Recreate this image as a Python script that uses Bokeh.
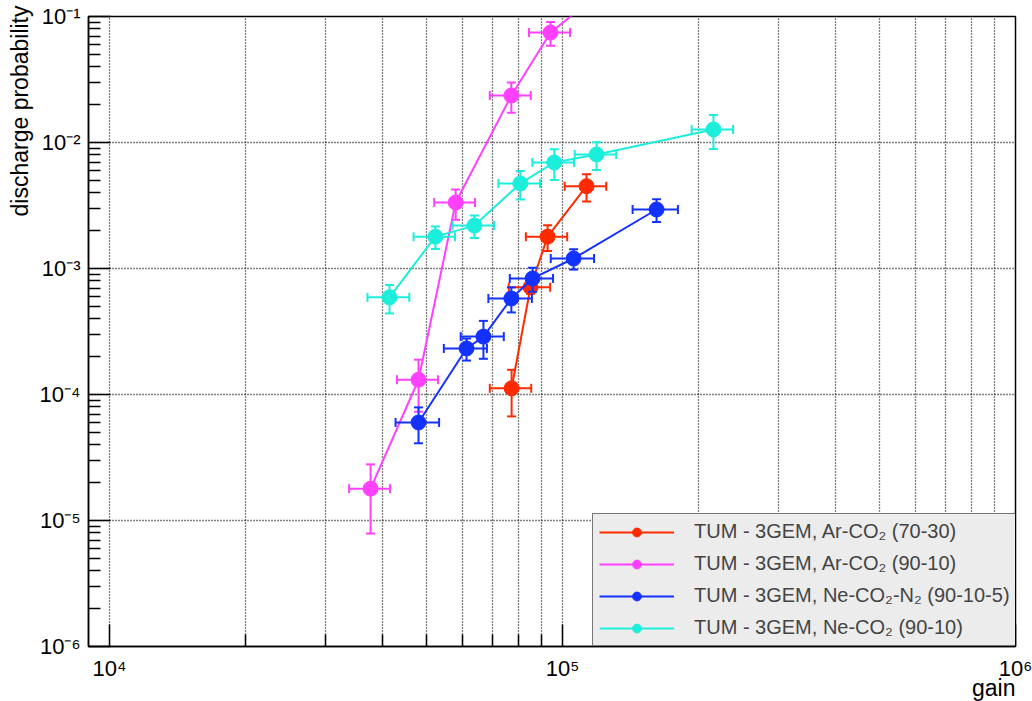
import math
from bokeh.plotting import figure
from bokeh.models import (Range1d, FixedTicker, Legend, LegendItem,
                          CustomJSTickFormatter, Title)
from bokeh.embed import file_html
from bokeh.resources import INLINE

FONT = "Liberation Sans"

# ---------------- data ----------------
x_major_ticks = [1e4, 1e5, 1e6]
y_major_ticks = [1e-6, 1e-5, 1e-4, 1e-3, 1e-2, 1e-1]

labels = [
    "TUM - 3GEM, Ar-CO\u2082 (70-30)",
    "TUM - 3GEM, Ar-CO\u2082 (90-10)",
    "TUM - 3GEM, Ne-CO\u2082-N\u2082 (90-10-5)",
    "TUM - 3GEM, Ne-CO\u2082 (90-10)",
]
colors = ["#ff2a00", "#ff40ff", "#1432ff", "#1ceedc"]

arco2_7030_gain = [77200, 85000, 92700, 113000]
arco2_7030_gain_err = [8100, 8900, 9700, 11900]
arco2_7030_prob = [1.12e-4, 7.1e-4, 1.79e-3, 4.5e-3]
arco2_7030_prob_err = [4.5e-5, 8.0e-5, 4.1e-4, 1.1e-3]

arco2_9010_gain = [37700, 48100, 58100, 77100, 94100, 120000]
arco2_9010_gain_err = [3900, 5000, 6000, 8000, 9800, 12500]
arco2_9010_prob = [1.79e-5, 1.31e-4, 3.34e-3, 2.36e-2, 7.46e-2, 0.15]
arco2_9010_prob_err = [1.0e-5, 5.8e-5, 9.0e-4, 6.4e-3, 1.6e-2, 3.0e-2]

neco2n2_gain = [48100, 61400, 66900, 77100, 85900, 105800, 161300]
neco2n2_gain_err = [5300, 6700, 7300, 8500, 9400, 11600, 18500]
neco2n2_prob = [6.0e-5, 2.32e-4, 2.88e-4, 5.78e-4, 8.34e-4, 1.20e-3, 2.94e-3]
neco2n2_prob_err = [1.9e-5, 4.6e-5, 9.6e-5, 1.3e-4, 1.8e-4, 2.2e-4, 6.0e-4]

neco2_gain = [41500, 52400, 63900, 80700, 95900, 118900, 215400]
neco2_gain_err = [4400, 5500, 6700, 8500, 10100, 12500, 22600]
neco2_prob = [5.9e-4, 1.79e-3, 2.19e-3, 4.73e-3, 6.94e-3, 8.04e-3, 1.27e-2]
neco2_prob_err = [1.5e-4, 3.6e-4, 4.4e-4, 1.2e-3, 1.9e-3, 2.0e-3, 3.8e-3]

series = [
    (arco2_7030_gain, arco2_7030_gain_err, arco2_7030_prob, arco2_7030_prob_err),
    (arco2_9010_gain, arco2_9010_gain_err, arco2_9010_prob, arco2_9010_prob_err),
    (neco2n2_gain, neco2n2_gain_err, neco2n2_prob, neco2n2_prob_err),
    (neco2_gain, neco2_gain_err, neco2_prob, neco2_prob_err),
]

# ---------------- figure ----------------
p = figure(width=1032, height=701, x_axis_type="log", y_axis_type="log",
           x_range=Range1d(10 ** 3.9536, 1e6), y_range=Range1d(1e-6, 1e-1),
           output_backend="svg", toolbar_location=None,
           min_border_left=88, min_border_right=17, min_border_top=16,
           min_border_bottom=55, background_fill_color="white",
           border_fill_color="white")
p.outline_line_color = "black"
p.outline_line_width = 1.5

x_minor = [m * 10 ** k for k in (4, 5) for m in range(2, 10)]
y_minor = [m * 10.0 ** k for k in range(-6, -1) for m in range(2, 10)]
xt = FixedTicker(ticks=x_major_ticks, minor_ticks=x_minor)
yt = FixedTicker(ticks=y_major_ticks, minor_ticks=y_minor)
p.xaxis.ticker = xt
p.yaxis.ticker = yt
p.xgrid.ticker = xt
p.ygrid.ticker = yt

sup_code = """
const sup = {"-": "\u207b", "0": "\u2070", "1": "\u00b9", "2": "\u00b2", "3": "\u00b3",
             "4": "\u2074", "5": "\u2075", "6": "\u2076", "7": "\u2077", "8": "\u2078", "9": "\u2079"};
const e = Math.round(Math.log10(tick));
return "10" + String(e).split("").map(c => sup[c]).join("");
"""
p.xaxis.formatter = CustomJSTickFormatter(code=sup_code)
p.yaxis.formatter = CustomJSTickFormatter(code=sup_code)

for ax in (p.xaxis, p.yaxis):
    ax.major_tick_in = 22
    ax.major_tick_out = 0
    ax.minor_tick_in = 12
    ax.minor_tick_out = 0
    ax.axis_line_width = 1.5
    ax.major_tick_line_width = 1.5
    ax.minor_tick_line_width = 1.5
    ax.major_label_text_font = FONT
    ax.major_label_text_font_size = "22px"
    ax.major_label_text_color = "black"
p.xaxis.major_label_standoff = 9
p.yaxis.major_label_standoff = 8


def make_title(text, standoff, offset):
    t = Title(text=text, align="right", text_font=FONT, text_font_size="23px",
              text_font_style="normal", text_color="black")
    try:
        t.standoff = standoff
    except Exception:
        t.standoff = 0
    t.offset = offset
    return t


p.add_layout(make_title("gain", -22, 0), "below")
p.add_layout(make_title("discharge probability", 7, -11), "left")

for g in (p.xgrid, p.ygrid):
    g.grid_line_color = "black"
    g.grid_line_dash = "1 2"
    g.grid_line_width = 1.3
p.xgrid.minor_grid_line_color = "black"
p.xgrid.minor_grid_line_dash = "1 2"
p.xgrid.minor_grid_line_width = 1.3
p.ygrid.minor_grid_line_color = None

# ---------------- data glyphs ----------------
items = []
for (gx, gxe, py, pye), col, lab in zip(series, colors, labels):
    lr = p.line(gx, py, line_color=col, line_width=2)
    p.segment(x0=[a - b for a, b in zip(gx, gxe)], y0=py,
              x1=[a + b for a, b in zip(gx, gxe)], y1=py,
              line_color=col, line_width=2)
    p.segment(x0=gx, y0=[a - b for a, b in zip(py, pye)],
              x1=gx, y1=[a + b for a, b in zip(py, pye)],
              line_color=col, line_width=2)
    p.scatter(x=[a - b for a, b in zip(gx, gxe)] + [a + b for a, b in zip(gx, gxe)],
              y=py + py, marker="dash", angle=math.pi / 2, size=9,
              line_color=col, line_width=2)
    p.scatter(x=gx + gx, y=[a - b for a, b in zip(py, pye)] + [a + b for a, b in zip(py, pye)],
              marker="dash", size=9, line_color=col, line_width=2)
    cr = p.scatter(gx, py, marker="circle", size=15, fill_color=col, line_color=col)
    items.append(LegendItem(label=lab, renderers=[lr, cr]))

legend = Legend(items=items, location=(504, 0), background_fill_color="#ececec",
                background_fill_alpha=1.0, border_line_color="black",
                border_line_width=1.5, padding=6, spacing=9, label_height=22,
                glyph_height=22, glyph_width=75, label_standoff=20, label_width=308,
                label_text_font=FONT, label_text_font_size="20px", margin=0)
p.add_layout(legend)

open("out.html", "w").write(file_html(p, INLINE))
